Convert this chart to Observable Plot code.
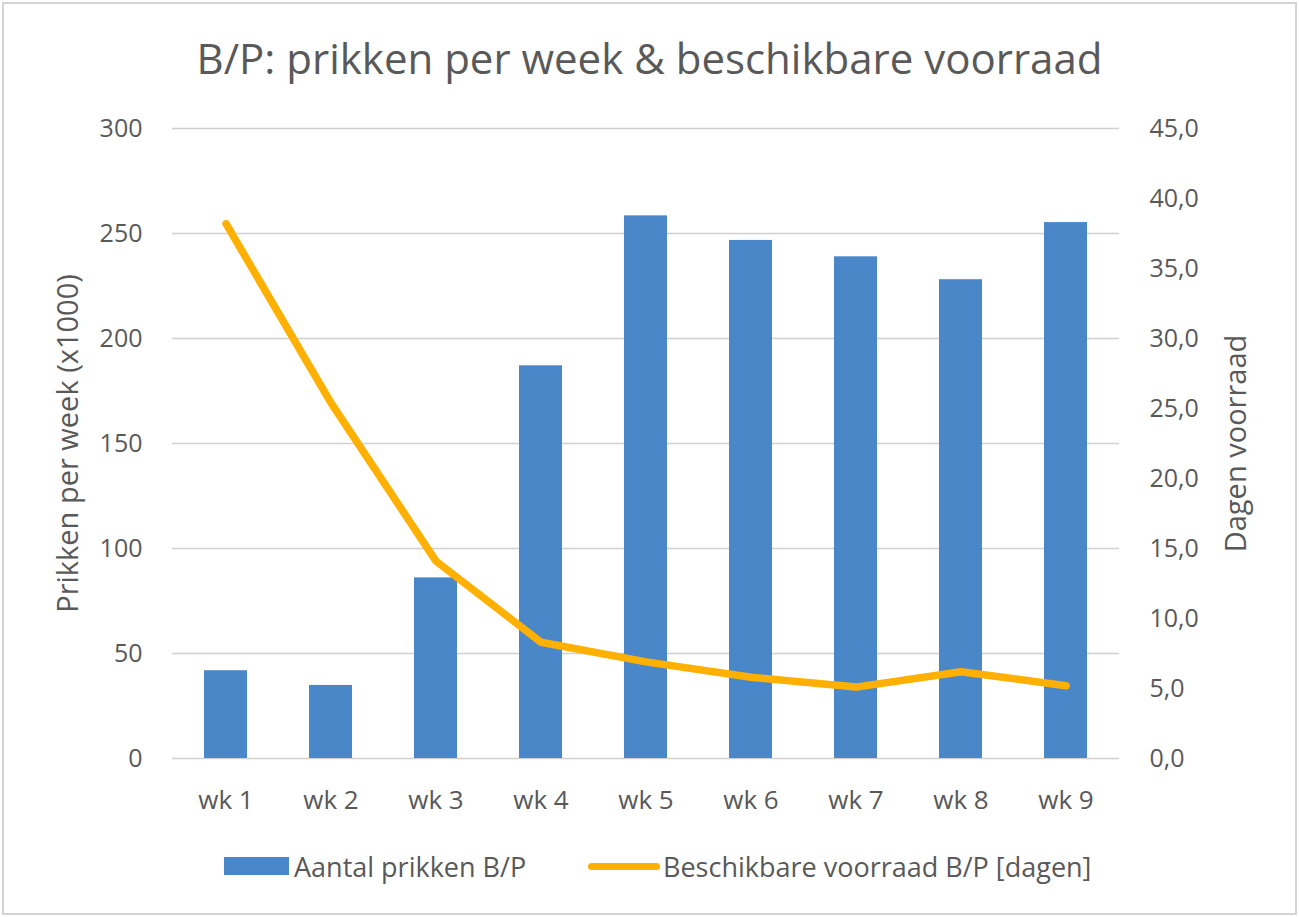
<!DOCTYPE html>
<html>
<head>
<meta charset="utf-8">
<script src="https://cdn.jsdelivr.net/npm/d3@7"></script>
<script src="https://cdn.jsdelivr.net/npm/@observablehq/plot@0.6"></script>
<style>
  html, body { margin: 0; padding: 0; background: #fff; }
  #wrap { position: relative; width: 1299px; height: 917px; font-family: "Open Sans", sans-serif; color: #595959; overflow: hidden; }
  #frame { position: absolute; left: 2px; top: 2px; width: 1291px; height: 909px; border: 2px solid #d4d4d4; pointer-events: none; }
  #title { position: absolute; left: 0; width: 1299px; top: 28px; text-align: center; font-size: 42px; line-height: 60px; font-weight: 400; color: #595959; white-space: nowrap; }
  #legend { position: absolute; top: 848px; left: 0; width: 1299px; height: 36px; font-size: 27px; color: #595959; }
  .lg { position: absolute; display: flex; align-items: center; height: 36px; white-space: nowrap; }
  svg { position: absolute; left: 0; top: 0; }
</style>
</head>
<body>
<div id="wrap">
  <div id="title"></div>
  <div id="legend"></div>
  <div id="frame"></div>
</div>
<script>
const titleText = "B/P: prikken per week & beschikbare voorraad";
const weeks = ["wk 1", "wk 2", "wk 3", "wk 4", "wk 5", "wk 6", "wk 7", "wk 8", "wk 9"];
const prikken = [41.8, 34.8, 86.0, 187.0, 258.4, 246.7, 238.9, 228.0, 255.2];
const voorraadDagen = [38.2, 25.4, 14.1, 8.3, 6.9, 5.8, 5.1, 6.2, 5.2];
const leftTicks = [0, 50, 100, 150, 200, 250, 300];
const rightTicks = [0, 5, 10, 15, 20, 25, 30, 35, 40, 45];
const rightMax = 45;
const leftMax = 300;
const seriesNames = ["Aantal prikken B/P", "Beschikbare voorraad B/P [dagen]"];
const axisTitles = ["Prikken per week (x1000)", "Dagen voorraad"];

const barColor = "#4a87c8";
const lineColor = "#ffb000";

const data = weeks.map((w, i) => ({week: w, prikken: prikken[i], dagen: voorraadDagen[i]}));
const toLeft = v => v * leftMax / rightMax;

document.getElementById("title").textContent = titleText;

const chart = Plot.plot({
  width: 1299,
  height: 917,
  marginLeft: 172,
  marginRight: 180,
  marginTop: 128,
  marginBottom: 159,
  style: {fontFamily: "'Open Sans', sans-serif", color: "#595959", background: "transparent", overflow: "visible"},
  x: {domain: weeks, paddingInner: 0.59, paddingOuter: 0.295, label: null},
  y: {domain: [0, leftMax], label: null},
  marks: [
    Plot.ruleY(leftTicks, {stroke: "#d0d0d0", strokeWidth: 1.6}),
    Plot.barY(data, {x: "week", y: "prikken", fill: barColor}),
    Plot.lineY(data, {x: "week", y: d => toLeft(d.dagen), stroke: lineColor, strokeWidth: 7.5, strokeLinecap: "round", strokeLinejoin: "round"}),
    Plot.axisY(leftTicks, {anchor: "left", tickSize: 0, tickPadding: 30, fontSize: 25, label: null}),
    Plot.axisY(rightTicks.map(toLeft), {anchor: "right", tickSize: 0, tickPadding: 30, fontSize: 25, label: null,
      tickFormat: d => (d * rightMax / leftMax).toFixed(1).replace(".", ",")}),
    Plot.axisX({tickSize: 0, tickPadding: 32, fontSize: 26, label: null}),
    Plot.text([axisTitles[0]], {frameAnchor: "left", dx: -104, rotate: -90, textAnchor: "middle", fontSize: 29, fill: "#595959"}),
    Plot.text([axisTitles[1]], {frameAnchor: "right", dx: 117, rotate: -90, textAnchor: "middle", fontSize: 29, fill: "#595959"})
  ]
});
document.getElementById("wrap").insertBefore(chart, document.getElementById("title"));

const legend = document.getElementById("legend");
const l1 = document.createElement("div");
l1.className = "lg"; l1.style.left = "224px";
l1.innerHTML = `<span style="display:inline-block;width:65px;height:18px;background:${barColor};margin-right:5px"></span><span></span>`;
l1.lastChild.textContent = seriesNames[0];
const l2 = document.createElement("div");
l2.className = "lg"; l2.style.left = "588px";
l2.innerHTML = `<span style="display:inline-block;width:72px;height:7px;border-radius:4px;background:${lineColor};margin-right:3px"></span><span></span>`;
l2.lastChild.textContent = seriesNames[1];
legend.appendChild(l1);
legend.appendChild(l2);
</script>
</body>
</html>
